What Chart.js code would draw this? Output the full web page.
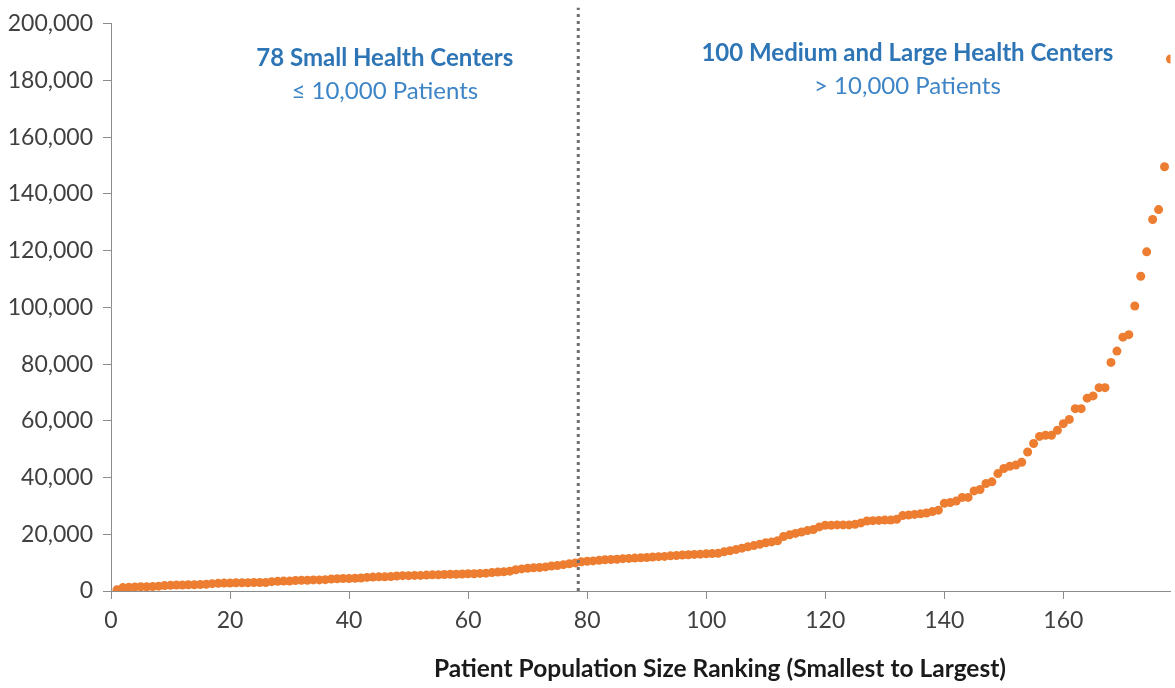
<!DOCTYPE html>
<html>
<head>
<meta charset="utf-8">
<script src="https://cdn.jsdelivr.net/npm/chart.js@4"></script>
<style>
  body { margin: 0; background: #fff; }
  #wrap { width: 1175px; height: 688px; }
</style>
</head>
<body>
<div id="wrap"><canvas id="chart"></canvas></div>
<script>
// patients per health center, ranked smallest to largest (rank = index + 1)
const patients = [
    400, 1200, 1300, 1400, 1500, 1500, 1600, 1700, 1900, 2000,
    2100, 2100, 2200, 2200, 2300, 2400, 2600, 2700, 2800, 2800,
    2900, 2900, 2900, 3000, 3000, 3000, 3300, 3400, 3500, 3500,
    3700, 3800, 3800, 3900, 3900, 4000, 4200, 4300, 4400, 4400,
    4500, 4600, 4800, 4900, 5000, 5000, 5100, 5300, 5400, 5400,
    5500, 5500, 5600, 5700, 5700, 5800, 5900, 5900, 6000, 6100,
    6100, 6200, 6300, 6500, 6700, 6800, 7000, 7500, 7800, 8000,
    8200, 8300, 8500, 8800, 9000, 9300, 9600, 9900,
    10300, 10500, 10600, 10800, 11000, 11100, 11200, 11400, 11500, 11600, 11700, 11800,
    12000, 12100, 12200, 12400, 12500, 12700, 12800, 12900, 13000, 13100,
    13200, 13300, 13800, 14200, 14600, 15100, 15600, 16000, 16500, 17000,
    17300, 17700, 19200, 19800, 20300, 20800, 21300, 21700, 22600, 23200,
    23200, 23300, 23300, 23300, 23500, 24000, 24700, 24800, 24900, 25000,
    25000, 25300, 26600, 26800, 27000, 27200, 27500, 28000, 28500, 30900,
    31200, 31700, 33000, 33000, 35300, 35800, 37900, 38500, 41400, 43200,
    44000, 44400, 45400, 49000, 52000, 54500, 54900, 54900, 56700, 59000,
    60500, 64300, 64300, 68000, 68800, 71700, 71700, 80600, 84600, 89500,
    90400, 100500, 111000, 119600, 131000, 134500, 149600, 187600
];
const smallCount = 78;
const groupTitles = ["78 Small Health Centers", "100 Medium and Large Health Centers"];
const groupSubtitles = ["\u2264 10,000 Patients", "> 10,000 Patients"];
const xTitle = "Patient Population Size Ranking (Smallest to Largest)";

const points = patients.map((v, i) => ({ x: i + 1, y: v }));
const FONT = "Lato";
const axisColor = "#8c8c8c";

// dotted divider + group labels + x title
const overlay = {
    id: "overlay",
    afterDatasetsDraw(chart) {
        const { ctx, chartArea, scales } = chart;
        const xd = scales.x.getPixelForValue(smallCount + 0.5);
        ctx.save();
        ctx.strokeStyle = "#6e6e6e";
        ctx.lineWidth = 3;
        ctx.setLineDash([3, 4]);
        ctx.beginPath();
        ctx.moveTo(xd, chartArea.bottom);
        ctx.lineTo(xd, chartArea.top - 16);
        ctx.stroke();
        ctx.setLineDash([]);

        ctx.textAlign = "center";
        ctx.textBaseline = "middle";
        const spots = [
            { x: scales.x.getPixelForValue(46), y1: 58, y2: 91 },
            { x: scales.x.getPixelForValue(133.8), y1: 53, y2: 86 }
        ];
        spots.forEach((s, i) => {
            ctx.fillStyle = "#2e75b6";
            ctx.font = "bold 24px " + FONT;
            ctx.fillText(groupTitles[i], s.x, s.y1);
            ctx.fillStyle = "#3d85c6";
            ctx.font = "24px " + FONT;
            ctx.fillText(groupSubtitles[i], s.x, s.y2);
        });

        ctx.fillStyle = "#1a1a1a";
        ctx.font = "bold 24.5px " + FONT;
        ctx.fillText(xTitle, 720, 669);
        ctx.restore();
    }
};

new Chart(document.getElementById("chart"), {
    type: "scatter",
    data: {
        datasets: [{
            data: points,
            backgroundColor: "#ed7d31",
            borderColor: "#ed7d31",
            pointRadius: 4.5,
            pointHoverRadius: 4.5,
            borderWidth: 0
        }]
    },
    options: {
        responsive: true,
        maintainAspectRatio: false,
        animation: false,
        layout: { padding: { top: 23, right: 1, left: 0, bottom: 0 } },
        plugins: { legend: { display: false }, tooltip: { enabled: false } },
        scales: {
            x: {
                type: "linear",
                min: 0,
                max: 178,
                afterBuildTicks: axis => { axis.ticks = axis.ticks.filter(t => t.value % 20 === 0); },
                afterFit: axis => { axis.height = 97; },
                ticks: { stepSize: 20, color: "#404040", font: { family: FONT, size: 23 }, padding: 8, maxRotation: 0 },
                grid: { drawOnChartArea: false, color: axisColor, tickLength: 8 },
                border: { color: axisColor, width: 1 }
            },
            y: {
                min: 0,
                max: 200000,
                afterFit: axis => { axis.width = 111; },
                ticks: {
                    stepSize: 10000,
                    color: "#404040",
                    font: { family: FONT, size: 23 },
                    padding: 10,
                    callback: v => (v % 20000 === 0 ? v.toLocaleString("en-US") : "")
                },
                grid: { drawOnChartArea: false, color: axisColor, tickLength: 8 },
                border: { color: axisColor, width: 1 }
            }
        }
    },
    plugins: [overlay]
});
</script>
</body>
</html>
